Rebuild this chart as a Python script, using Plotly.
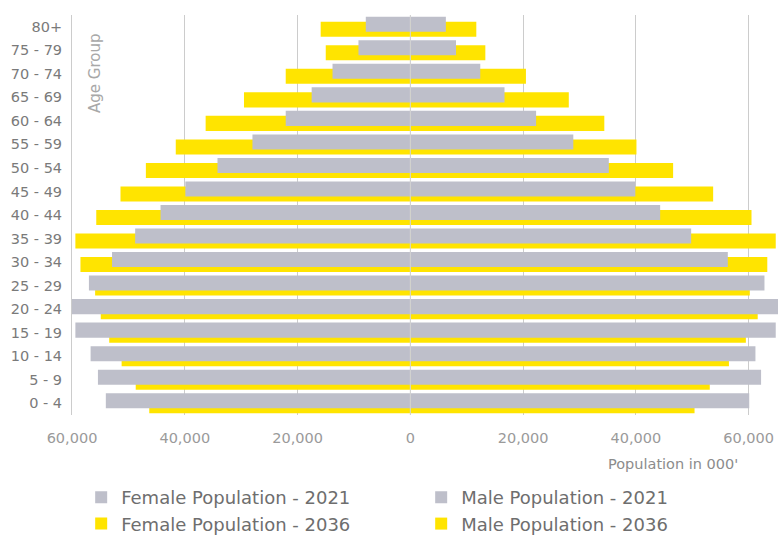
import plotly.graph_objects as go

# Age bands, youngest first (bottom of the pyramid)
age_groups = ["0 - 4", "5 - 9", "10 - 14", "15 - 19", "20 - 24", "25 - 29",
              "30 - 34", "35 - 39", "40 - 44", "45 - 49", "50 - 54", "55 - 59",
              "60 - 64", "65 - 69", "70 - 74", "75 - 79", "80+"]

# Population in thousands
female_2021 = [54000, 55400, 56700, 59400, 60000, 57000, 52900, 48800, 44300,
               39900, 34200, 28000, 22100, 17500, 13800, 9200, 7900]
male_2021 = [60100, 62200, 61200, 64800, 66000, 62800, 56300, 49800, 44300,
             39900, 35200, 28900, 22300, 16700, 12400, 8100, 6300]
female_2036 = [46300, 48700, 51200, 53400, 54900, 55900, 58500, 59400, 55700,
               51400, 46900, 41600, 36300, 29500, 22100, 15000, 15900]
male_2036 = [50400, 53100, 56500, 59500, 61600, 60200, 63300, 64800, 60500,
             53700, 46600, 40100, 34400, 28100, 20500, 13300, 11700]

tick_vals = [-60000, -40000, -20000, 0, 20000, 40000, 60000]
tick_text = ["60,000", "40,000", "20,000", "0", "20,000", "40,000", "60,000"]

GREY = "#bebfca"
YELLOW = "#ffe400"
FONT = "DejaVu Sans"

BAR_W = 0.64
OFF_2021 = -0.214   # 2021 bars sit slightly above the band centre
OFF_2036 = -0.426   # 2036 bars sit slightly below

fig = go.Figure()

# 2036 bars first so the 2021 bars are painted over them
fig.add_trace(go.Bar(y=age_groups, x=[-v for v in female_2036], orientation="h",
                     name="Female Population - 2036", marker_color=YELLOW,
                     width=BAR_W, offset=OFF_2036, legendrank=3))
fig.add_trace(go.Bar(y=age_groups, x=male_2036, orientation="h",
                     name="Male Population - 2036", marker_color=YELLOW,
                     width=BAR_W, offset=OFF_2036, legendrank=4))
fig.add_trace(go.Bar(y=age_groups, x=[-v for v in female_2021], orientation="h",
                     name="Female Population - 2021", marker_color=GREY,
                     width=BAR_W, offset=OFF_2021, legendrank=1))
fig.add_trace(go.Bar(y=age_groups, x=male_2021, orientation="h",
                     name="Male Population - 2021", marker_color=GREY,
                     width=BAR_W, offset=OFF_2021, legendrank=2))

for t in fig.data:
    t.marker.line.width = 0

fig.update_layout(
    width=778, height=538,
    margin=dict(l=72, r=0, t=15, b=123, autoexpand=False),
    paper_bgcolor="white", plot_bgcolor="white",
    barmode="overlay",
    font=dict(family=FONT, color="#888888"),
    xaxis=dict(range=[-60000, 65200], tickvals=tick_vals, ticktext=tick_text,
               showgrid=True, gridcolor="#cccccc", gridwidth=1,
               zeroline=False, showline=False, ticks="",
               ticklabelstandoff=12,
               tickfont=dict(size=14.5, color="#9a9a9a", family=FONT),
               fixedrange=True),
    yaxis=dict(type="category", categoryorder="array", categoryarray=age_groups,
               range=[-0.5, 16.5], showgrid=False, zeroline=False,
               showline=True, linecolor="#cccccc", linewidth=1, ticks="",
               ticklabelstandoff=6,
               tickfont=dict(size=14.5, color="#7a7a7a", family=FONT),
               fixedrange=True),
    legend=dict(orientation="h", x=0.013, xanchor="left", y=-0.16, yanchor="top",
                entrywidth=295, entrywidthmode="pixels",
                font=dict(size=18, color="#6e6e6e", family=FONT),
                bgcolor="rgba(0,0,0,0)", tracegroupgap=0),
    showlegend=True,
    annotations=[
        dict(text="Population in 000'", xref="paper", yref="paper",
             x=0.946, y=-0.1225, xanchor="right", yanchor="middle",
             showarrow=False, font=dict(size=14.5, color="#8c8c8c", family=FONT)),
        dict(text="Age Group", xref="paper", yref="paper",
             x=0.0326, y=0.8525, xanchor="center", yanchor="middle",
             textangle=-90, showarrow=False,
             font=dict(size=15, color="#a8a8a8", family=FONT)),
    ],
    shapes=[
        # centre divider drawn over the bars
        dict(type="line", xref="x", yref="paper", x0=0, x1=0, y0=0, y1=1,
             line=dict(color="#d4d4d4", width=1), layer="above"),
    ],
)

fig.write_html("out.html")
